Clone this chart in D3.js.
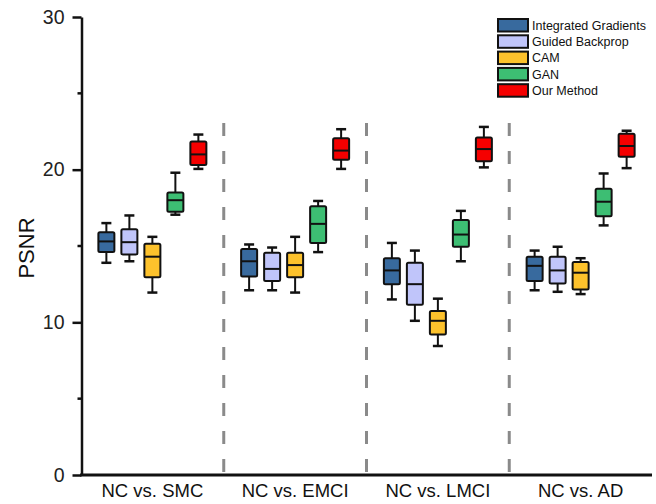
<!DOCTYPE html>
<html lang="en">
<head>
	<meta charset="UTF-8">
	<title>PSNR boxplot</title>
	<style>
		body { margin: 0; background: #fff; }
		text { font-family: Arial, "Liberation Sans", sans-serif; fill: #111; }
	</style>
	<script src="https://d3js.org/d3.v7.min.js"></script>
</head>
<body>
	<script type="text/javascript">
		let width = 656;
		let height = 504;

		// groups along the x axis
		const categories = ["NC vs. SMC", "NC vs. EMCI", "NC vs. LMCI", "NC vs. AD"];
		const methods = ["Integrated Gradients", "Guided Backprop", "CAM", "GAN", "Our Method"];
		const colors = ["#386a9e", "#c0c5fa", "#fdc22c", "#3dbe73", "#f50000"];

		// [min, q1, median, q3, max] for each group
		const igStats = [[13.9, 14.6, 15.3, 15.9, 16.5], [12.1, 13.0, 14.0, 14.8, 15.1], [11.5, 12.5, 13.4, 14.2, 15.2], [12.1, 12.7, 13.7, 14.3, 14.7]];
		const gbStats = [[14.0, 14.45, 15.25, 16.1, 17.0], [12.1, 12.7, 13.5, 14.55, 14.9], [10.1, 11.15, 12.5, 13.9, 14.7], [12.0, 12.55, 13.4, 14.3, 14.95]];
		const camStats = [[11.95, 12.95, 14.3, 15.15, 15.6], [11.95, 12.95, 13.75, 14.55, 15.6], [8.45, 9.2, 10.1, 10.75, 11.55], [11.85, 12.15, 13.25, 13.95, 14.2]];
		const ganStats = [[17.05, 17.25, 18.0, 18.5, 19.8], [14.6, 15.2, 16.45, 17.6, 17.95], [14.0, 14.95, 15.75, 16.7, 17.3], [16.35, 16.95, 17.9, 18.75, 19.75]];
		const oursStats = [[20.05, 20.3, 21.0, 21.85, 22.3], [20.05, 20.65, 21.25, 22.05, 22.65], [20.15, 20.55, 21.35, 22.1, 22.8], [20.1, 20.85, 21.55, 22.35, 22.55]];
		const allStats = [igStats, gbStats, camStats, ganStats, oursStats];

		const yTicks = [0, 10, 20, 30];
		const yMinorTicks = [5, 15, 25];

		const svg = d3.select("body").append("svg")
			.attr("width", width)
			.attr("height", height);

		const x = d3.scaleBand()
			.domain(categories)
			.range([81, 652]);

		const offset = d3.scalePoint()
			.domain(methods)
			.range([-46, 46]);

		const y = d3.scaleLinear()
			.domain([0, 30])
			.range([475, 17]);

		const boxW = 16;
		const capW = 10;

		// dashed separators between groups
		svg.selectAll(".sep")
			.data(categories.slice(1))
			.join("line")
			.attr("class", "sep")
			.attr("x1", d => x(d))
			.attr("x2", d => x(d))
			.attr("y1", 472)
			.attr("y2", 116)
			.style("stroke", "#8a8a8a")
			.style("stroke-width", 3)
			.style("stroke-dasharray", "13,15");

		// flatten the boxes
		const boxes = [];
		methods.forEach((m, mi) => {
			categories.forEach((c, ci) => {
				const s = allStats[mi][ci];
				boxes.push({ method: m, cat: c, color: colors[mi], min: s[0], q1: s[1], med: s[2], q3: s[3], max: s[4] });
			});
		});

		const g = svg.selectAll(".box")
			.data(boxes)
			.join("g")
			.attr("class", "box")
			.attr("transform", d => "translate(" + (x(d.cat) + x.bandwidth() / 2 + offset(d.method)) + ",0)");

		// whiskers
		g.append("line")
			.attr("x1", 0).attr("x2", 0)
			.attr("y1", d => y(d.max))
			.attr("y2", d => y(d.min))
			.style("stroke", "#111")
			.style("stroke-width", 2);

		g.append("line")
			.attr("x1", -capW / 2).attr("x2", capW / 2)
			.attr("y1", d => y(d.max)).attr("y2", d => y(d.max))
			.style("stroke", "#111")
			.style("stroke-width", 2.5);

		g.append("line")
			.attr("x1", -capW / 2).attr("x2", capW / 2)
			.attr("y1", d => y(d.min)).attr("y2", d => y(d.min))
			.style("stroke", "#111")
			.style("stroke-width", 2.5);

		// box
		g.append("rect")
			.attr("x", -boxW / 2)
			.attr("width", boxW)
			.attr("y", d => y(d.q3))
			.attr("height", d => y(d.q1) - y(d.q3))
			.attr("rx", 1.5)
			.style("fill", d => d.color)
			.style("stroke", "#111")
			.style("stroke-width", 2);

		// median
		g.append("line")
			.attr("x1", -boxW / 2).attr("x2", boxW / 2)
			.attr("y1", d => y(d.med)).attr("y2", d => y(d.med))
			.style("stroke", "#111")
			.style("stroke-width", 2);

		// y axis
		const yAxis = svg.append("g")
			.attr("transform", "translate(81.5,0)")
			.call(d3.axisLeft(y).tickValues(yTicks).tickSize(9).tickSizeOuter(0).tickPadding(8));

		yAxis.select(".domain").style("stroke", "#111").style("stroke-width", 2.5);
		yAxis.selectAll(".tick line").style("stroke", "#111").style("stroke-width", 2.5);
		yAxis.selectAll(".tick text")
			.style("font-size", "19.5px")
			.style("fill", "#222");

		svg.selectAll(".minor")
			.data(yMinorTicks)
			.join("line")
			.attr("class", "minor")
			.attr("x1", 77.5).attr("x2", 81.5)
			.attr("y1", d => y(d)).attr("y2", d => y(d))
			.style("stroke", "#111")
			.style("stroke-width", 2.5);

		// x axis
		const xAxis = svg.append("g")
			.attr("transform", "translate(0,475)")
			.call(d3.axisBottom(x).tickSize(0).tickPadding(9));

		xAxis.select(".domain").remove();
		xAxis.selectAll(".tick text")
			.style("font-size", "18.5px")
			.style("fill", "#111");

		svg.append("line")
			.attr("x1", 80).attr("x2", 652)
			.attr("y1", 475).attr("y2", 475)
			.style("stroke", "#111")
			.style("stroke-width", 3);

		// y label
		svg.append("text")
			.attr("transform", "translate(34,248) rotate(-90)")
			.attr("text-anchor", "middle")
			.style("font-size", "22px")
			.text("PSNR");

		// legend
		const legend = svg.selectAll(".legend")
			.data(methods)
			.join("g")
			.attr("class", "legend")
			.attr("transform", (d, i) => "translate(498," + (19 + i * 16.3) + ")");

		legend.append("rect")
			.attr("width", 30)
			.attr("height", 12.5)
			.style("fill", (d, i) => colors[i])
			.style("stroke", "#111")
			.style("stroke-width", 2);

		legend.append("text")
			.attr("x", 34)
			.attr("y", 6.5)
			.attr("dy", "0.35em")
			.style("font-size", "12.5px")
			.text(d => d);
	</script>
</body>
</html>
